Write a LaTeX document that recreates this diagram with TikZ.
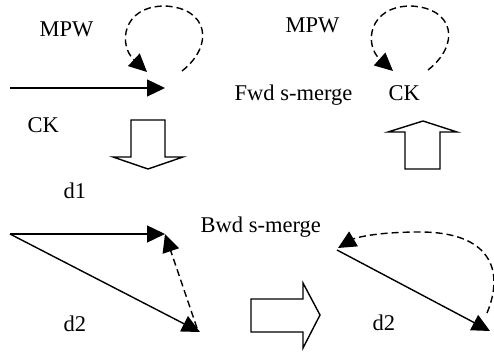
\documentclass[tikz,border=0pt]{standalone}
\usepackage{fontspec}
\newfontfamily\tmsfont{Liberation Serif}
\usetikzlibrary{arrows.meta}

\tikzset{
  lbl/.style={anchor=base west, inner sep=0pt, font=\tmsfont\fontsize{22.5}{26}\selectfont},
  tri/.style={-{Triangle[length=18pt,width=17pt]}},
  rayas/.style={dash pattern=on 7pt off 4pt},
  flecha/.style={draw, line width=1.4pt, fill=white}
}

\begin{document}
\begin{tikzpicture}[x=1pt,y=-1pt,line width=1.4pt]
  \useasboundingbox (0,0) rectangle (494,352);
  %puntos
  \coordinate (a0) at (10,88);
  \coordinate (a1) at (165,88);
  \coordinate (l1) at (182,71);
  \coordinate (t1) at (147,72);
  \coordinate (l2) at (428,70);
  \coordinate (t2) at (393,71);
  \coordinate (b0) at (10,234);
  \coordinate (b1) at (165,234);
  \coordinate (b2) at (200,332);
  \coordinate (c0) at (337,250);
  \coordinate (c1) at (490,331);
  \coordinate (c2) at (487,313);
  % textos
  \node[lbl] (mpwa) at (39,36.7) {MPW};
  \node[lbl] (cka) at (27,132.7) {CK};
  \node[lbl] (mpwb) at (285,32.7) {MPW};
  \node[lbl] (fwd) at (234,100.7) {Fwd s-merge};
  \node[lbl] (ckb) at (388,100.7) {CK};
  \node[lbl] (da) at (63,198.3) {d1};
  \node[lbl] (bwd) at (200,232.7) {Bwd s-merge};
  \node[lbl] (db) at (63,331) {d2};
  \node[lbl] (dc) at (372,330) {d2};
  %arriba izquierda
  \draw[tri] (a0) -- (a1);
  \draw[tri, rayas] (l1) .. controls (215,45) and (208,8) .. (165,6)
                          .. controls (122,6) and (118,45) .. (t1);
  %arriba derecha
  \draw[tri, rayas] (l2) .. controls (461,44) and (454,8) .. (411,6)
                          .. controls (368,6) and (364,45) .. (t2);
  %abajo izquierda
  \draw[tri] (b0) -- (b1);
  \draw[tri] (b0) -- (b2);
  \draw[tri, rayas] (197,328) -- (b1);
  %abajo derecha
  \draw[tri] (c0) -- (c1);
  \draw[tri, rayas] (c2) .. controls (505,270) and (490,232) .. (420,232)
                          .. controls (375,232) and (355,238) .. (338,248);
  % flechas huecas
  \draw[flecha] (131,120) -- (165,120) -- (165,157) -- (183,157) -- (148,169)
                -- (113,157) -- (131,157) -- cycle;
  \draw[flecha] (405,169) -- (440,169) -- (440,132) -- (457,132) -- (423,121)
                -- (388,132) -- (405,132) -- cycle;
  \draw[flecha] (251,299) -- (303,299) -- (303,283) -- (320,315) -- (303,348)
                -- (303,332) -- (251,332) -- cycle;
\end{tikzpicture}
\end{document}
